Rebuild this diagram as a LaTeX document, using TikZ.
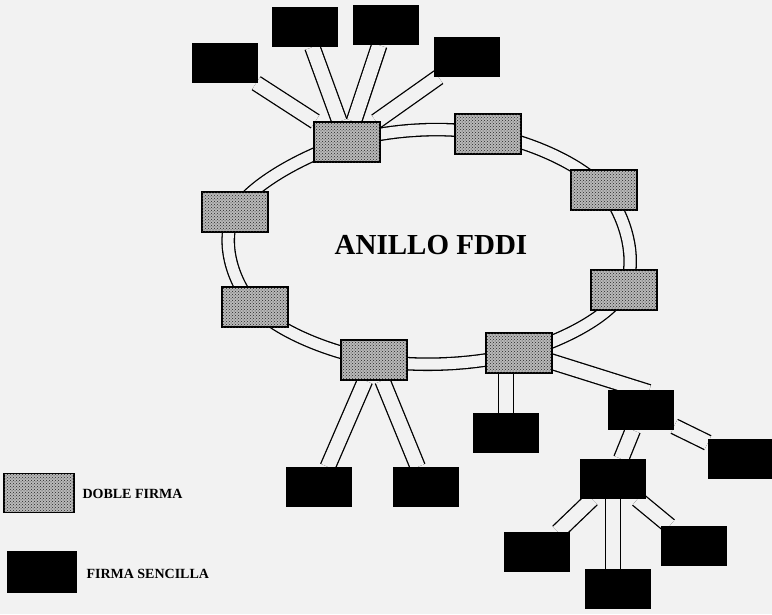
\documentclass[tikz,border=0pt]{standalone}
\usepackage{fontspec}
\setmainfont{Liberation Serif}
\usetikzlibrary{patterns,backgrounds}
\definecolor{paper}{gray}{0.95}
\begin{document}
\begin{tikzpicture}[x=1pt,y=-1pt,
    dual/.style={draw=black,line width=1.2pt,fill=gray!55,
          postaction={pattern=crosshatch dots,pattern color=black!85},
          minimum width=66pt,minimum height=40pt,inner sep=0pt},
    single/.style={fill=black,minimum width=66pt,
          minimum height=40pt,inner sep=0pt},
    link/.style={draw=black,line width=1.3pt,
          double=paper,double distance=14pt},
    ringlink/.style={link,double distance=11pt}]
    \begin{scope}[on background layer]
        \fill[paper] (0,0) rectangle (772,614);
    \end{scope}
    \useasboundingbox (0,0) rectangle (772,614);
    % ring stations
    \node[dual] (hub) at (347,142) {};
    \node[dual] (st2) at (488,134) {};
    \node[dual] (st3) at (604,190) {};
    \node[dual] (st4) at (624,290) {};
    \node[dual] (st5) at (519,353) {};
    \node[dual] (st6) at (374,360) {};
    \node[dual] (st7) at (255,307) {};
    \node[dual] (st8) at (235,212) {};
    % single attached stations
    \node[single] (sa1) at (225,63) {};
    \node[single] (sa2) at (305,27) {};
    \node[single] (sa3) at (386,25) {};
    \node[single] (sa4) at (467,57) {};
    \node[single] (sa5) at (506,433) {};
    \node[single] (sa6) at (641,410) {};
    \node[single] (sa7) at (741,459) {};
    \node[single] (sa8) at (613,479) {};
    \node[single] (sa9) at (537,552) {};
    \node[single] (sa10) at (618,589) {};
    \node[single] (sa11) at (694,546) {};
    \node[single] (sa12) at (319,487) {};
    \node[single] (sa13) at (426,487) {};
    % links, behind the boxes
    \begin{scope}[on background layer]
        \draw[ringlink] plot[smooth cycle,tension=0.6] coordinates
              {(hub) (st2) (st3) (st4) (st5) (st6) (st7) (st8)};
        \foreach \s in {sa1,sa2,sa3,sa4}
            \draw[link] (hub) -- (\s);
        \foreach \s in {sa12,sa13}
            \draw[link] (st6) -- (\s);
        \draw[link] (sa5) -- (sa5 |- st5);
        \draw[link,shorten <=-8pt,shorten >=-8pt] (st5.-15) -- (sa6.north);
        \draw[link] (sa6) -- (sa7);
        \draw[link] (sa6) -- (sa8);
        \draw[link] (sa8) -- (sa9);
        \draw[link] (sa8) -- (sa8 |- sa10);
        \draw[link] (sa8) -- (sa11);
    \end{scope}
    \node[font=\bfseries\fontsize{29}{29}\selectfont] (ring) at (431,245)
          {ANILLO FDDI};
    % legend
    \node[dual,minimum width=70pt,minimum height=39pt] (keyd) at (39,493) {};
    \node[anchor=west,font=\bfseries\fontsize{14}{14}\selectfont] (keydt)
          at (79,494) {DOBLE FIRMA};
    \node[single,minimum width=70pt,minimum height=42pt] (keys) at (42,572) {};
    \node[anchor=west,font=\bfseries\fontsize{14}{14}\selectfont] (keyst)
          at (83,574) {FIRMA SENCILLA};
\end{tikzpicture}
\end{document}
